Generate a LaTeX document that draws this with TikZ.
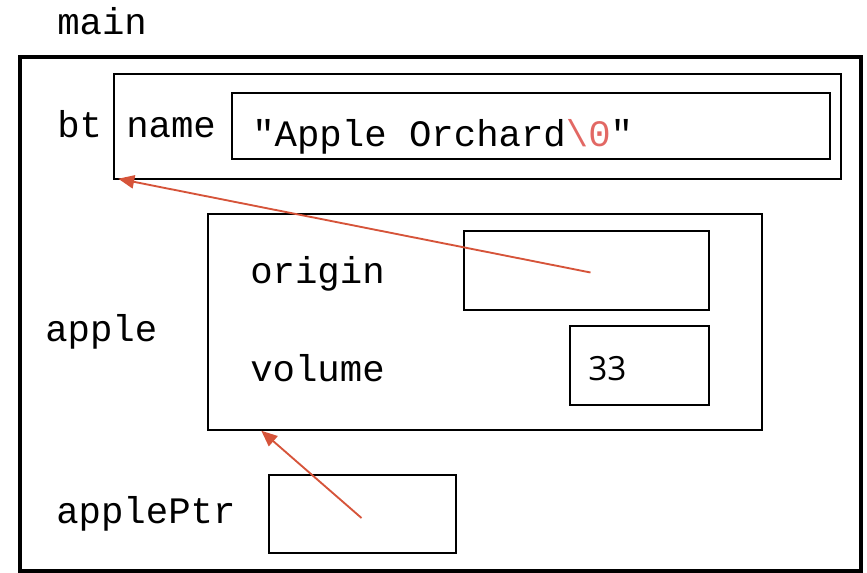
\documentclass[tikz,border=0pt]{standalone}
\usepackage{fontspec}
\setmonofont{Liberation Mono}
\newfontfamily\numfont{Open Sans}
\usetikzlibrary{fit,arrows.meta,calc}
\definecolor{arrowred}{RGB}{214,84,58}
\definecolor{nulred}{RGB}{226,104,100}
\begin{document}
\begin{tikzpicture}[x=0.75pt,y=-0.75pt,
  box/.style={draw, line width=1.3pt, inner sep=0pt},
  lbl/.style={anchor=base west, inner sep=0pt, font=\ttfamily\fontsize{28}{32}\selectfont},
  ptr/.style={draw=arrowred, line width=1.4pt, -{Triangle[length=12pt,width=10pt]}}]
\useasboundingbox (0,0) rectangle (867,573);
% outer frame
\node[box, line width=2.4pt, fit={(20,57) (861,571)}] (main) {};
\node[lbl] (mainlbl) at (57,35) {main};
% bt
\node[box, line width=1.1pt, fit={(114,74) (841,179)}] (bt) {};
\node[lbl] (btlbl) at (57,138) {bt};
\node[lbl] (namelbl) at (126,138) {name};
\node[box, line width=1.5pt, fit={(232,93) (830,159)}] (namebox) {};
\node[lbl] (namestr) at (252,147) {"Apple Orchard\textcolor{nulred}{\textbackslash 0}"};
% apple
\node[box, line width=1.1pt, fit={(208,214) (762,430)}] (apple) {};
\node[lbl] (applelbl) at (45,342) {apple};
\node[lbl] (originlbl) at (250,284) {origin};
\node[box, line width=1.5pt, fit={(464,231) (709,310)}] (originbox) {};
\node[lbl] (volumelbl) at (250,382) {volume};
\node[box, line width=1.5pt, fit={(570,326) (709,405)}] (volumebox) {};
\node[anchor=base west, inner sep=0pt, font=\numfont\fontsize{25}{30}\selectfont] (vol) at (588,380) {33};
% applePtr
\node[lbl] (ptrlbl) at (56,523) {applePtr};
\node[box, line width=1.1pt, fit={(269,475) (456,553)}] (ptrbox) {};
% pointers
\coordinate (o1) at ($(originbox.center)+(4,2)$);
\coordinate (p1) at ($(ptrbox.center)+(-1,4)$);
\coordinate (ae) at ($(apple.south west)+(54,0)$);
\coordinate (be) at ($(bt.south west)+(5,-1)$);
\draw[ptr] (o1) -- (be);
\draw[ptr] (p1) -- (ae);
\end{tikzpicture}
\end{document}
